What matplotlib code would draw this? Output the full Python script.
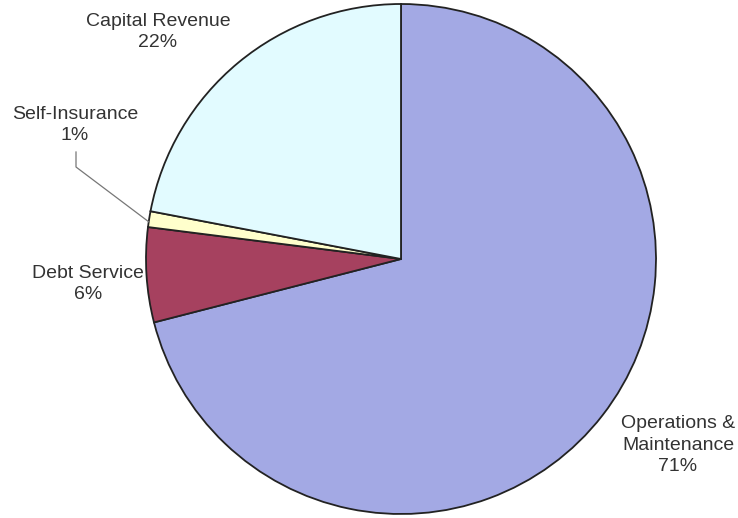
import matplotlib.pyplot as plt

# Budget shares, clockwise from 12 o'clock
categories = ['Operations &\nMaintenance', 'Debt Service', 'Self-Insurance', 'Capital Revenue']
shares = [71, 6, 1, 22]
colors = ['#a3a9e4', '#a6415f', '#ffffcc', '#e2fbff']

plt.rcParams['font.family'] = ['Liberation Sans', 'DejaVu Sans']

fig = plt.figure(figsize=(7.38, 5.18), dpi=100)
ax = fig.add_axes([0, 0, 1, 1])

ax.pie(shares, colors=colors, startangle=90, counterclock=False,
       center=(401, 259), radius=255,
       wedgeprops=dict(edgecolor='#222222', linewidth=1.3))

# pie() resets the view, so fix the pixel-sized frame afterwards
ax.set_xlim(0, 738)
ax.set_ylim(0, 518)
ax.set_aspect('equal')
ax.axis('off')

txt = dict(ha='center', va='center', fontsize=14, color='#333333', linespacing=1.35)

ax.text(678, 73, '%s\n%d%%' % (categories[0], shares[0]), **txt)
ax.text(88, 234, '%s\n%d%%' % (categories[1], shares[1]), **txt)
ax.text(158, 486, '%s\n%d%%' % (categories[3], shares[3]), **txt)
ax.text(75, 393, '%s\n%d%%' % (categories[2], shares[2]), **txt)

# leader line for the thin slice
ax.plot([76, 76, 149], [366, 351, 296], color='#777777', linewidth=0.9)

fig.savefig('out.png', dpi=100)
